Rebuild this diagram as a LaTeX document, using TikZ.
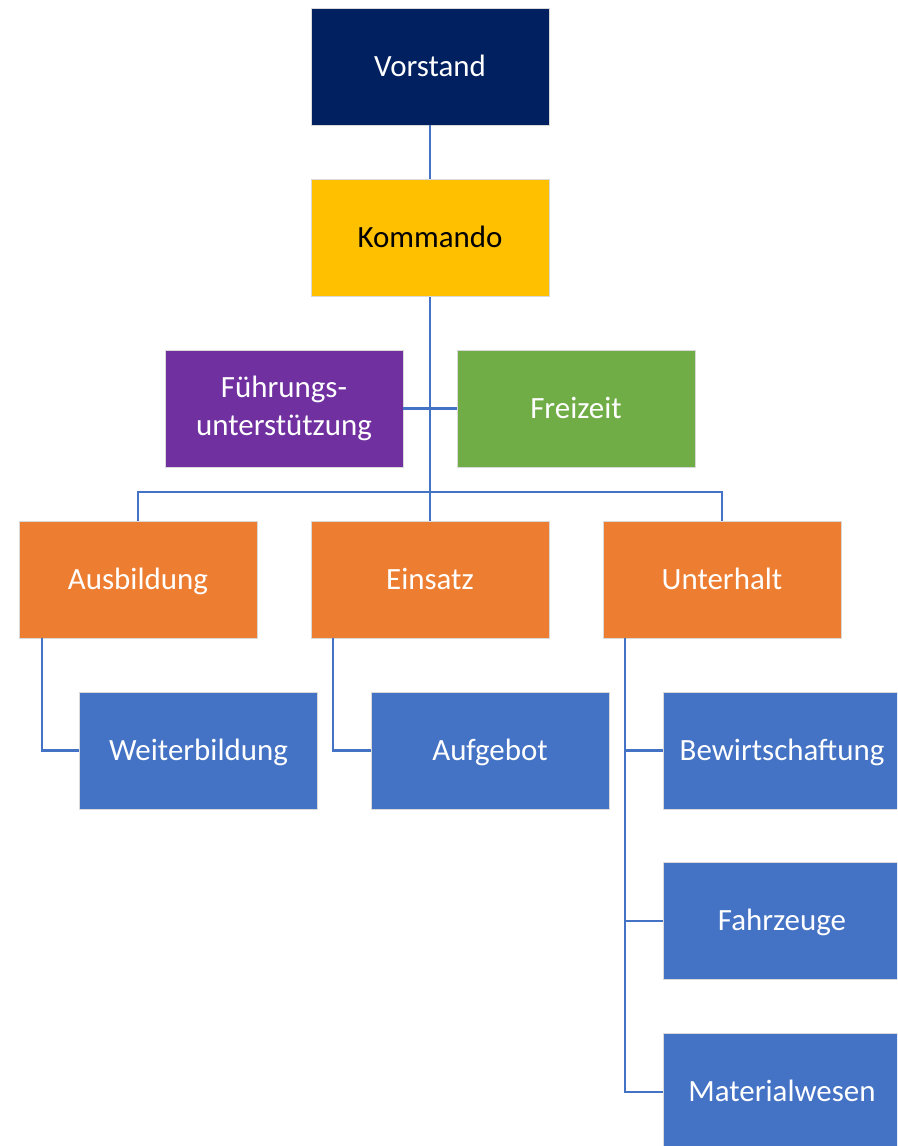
\documentclass[tikz,border=0pt]{standalone}
\usepackage{fontspec}
\setmainfont{Carlito}
\usepackage{tikz}
\usetikzlibrary{positioning,calc}
\usepackage{xcolor}

\definecolor{navy}{HTML}{002060}
\definecolor{gold}{HTML}{FFC000}
\definecolor{violet}{HTML}{7030A0}
\definecolor{leafgreen}{HTML}{70AD47}
\definecolor{ressort}{HTML}{ED7D31}
\definecolor{fachblue}{HTML}{4472C4}

\tikzset{
  orgbox/.style={rectangle, draw=white!85!black, line width=0.4pt, inner sep=0pt,
    minimum width=5.95cm, minimum height=2.925cm, text=white, align=center,
    font=\fontsize{22}{27}\selectfont},
  oneline/.style={orgbox, text height=14.2pt, text depth=0pt},
  link/.style={draw=fachblue, line width=1.6pt}
}

\begin{document}
\begin{tikzpicture}[x=0.025cm, y=-0.025cm]

\useasboundingbox (0,0) rectangle (897,1146);
\clip (0,0) rectangle (897,1146);

% Leitung
\node[oneline, fill=navy] (vor) at (430,66.5) {Vorstand};
\node[oneline, fill=gold, text=black] (kom) at (430,238) {Kommando};

% Stab
\node[orgbox, fill=violet] (fue) at (284,408.5) {Führungs-\\unterstützung};
\node[oneline, fill=leafgreen] (frei) at (576,408.5) {Freizeit};

% Ressorts
\node[oneline, fill=ressort] (aus) at (138,579.5) {Ausbildung};
\node[oneline, fill=ressort] (ein) at (430,579.5) {Einsatz};
\node[oneline, fill=ressort] (unt) at (722,579.5) {Unterhalt};

% Fachbereiche
\node[oneline, fill=fachblue] (wei) at (198.5,750.5) {Weiterbildung};
\node[oneline, fill=fachblue] (auf) at (490,750.5) {Aufgebot};
\node[oneline, fill=fachblue] (bew) at (782,750.5) {Bewirtschaftung};
\node[oneline, fill=fachblue] (fah) at (782,921) {Fahrzeuge};
\node[oneline, fill=fachblue] (mat) at (782,1092) {Materialwesen};

% Verbindungen
\coordinate (bus) at (430,492);
\draw[link] (vor.south) -- (kom.north);
\draw[link] (kom.south) -- (ein.north);
\draw[link] (fue.east) -- (frei.west);
\draw[link] (aus.north) |- (bus) -| (unt.north);

\draw[link] ($(aus.south west)+(23,0)$) |- (wei.west);
\draw[link] ($(ein.south west)+(22,0)$) |- (auf.west);
\draw[link] ($(unt.south west)+(22,0)$) |- (bew.west);
\draw[link] ($(unt.south west)+(22,0)$) |- (fah.west);
\draw[link] ($(unt.south west)+(22,0)$) |- (mat.west);

\end{tikzpicture}
\end{document}
